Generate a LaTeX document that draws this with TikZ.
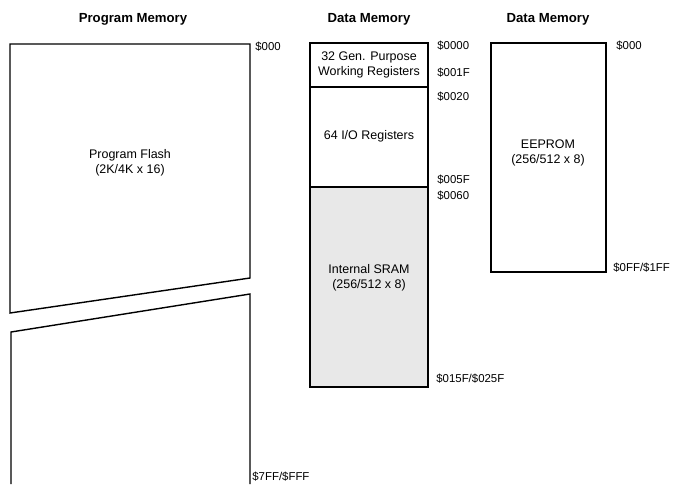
\documentclass[tikz,border=0pt]{standalone}
\usepackage{fontspec}
\setmainfont{Liberation Sans}
\usetikzlibrary{positioning}

\begin{document}
\begin{tikzpicture}[
  x=0.02cm, y=-0.02cm,
  title/.style={font=\fontsize{7.5}{9}\selectfont\bfseries},
  memtext/.style={align=center, font=\fontsize{7.1}{8.4}\selectfont},
  addr/.style={anchor=west, inner sep=0pt, font=\fontsize{6.5}{7.5}\selectfont},
  membox/.style={draw, line width=0.8pt},
  sramfill/.style={fill=black!9}
]
\useasboundingbox (0,0) rectangle (679,484);

% titles
\node[title] (tprog) at (133,19) {Program Memory};
\node[title] (tdata) at (369,19) {Data Memory};
\node[title] (teep) at (548,19) {Data Memory};

% program memory, drawn in two broken pieces
\draw[membox] (10,44) -- (250,44) -- (250,278) -- (10,313) -- cycle;
\draw[membox] (250,484) -- (250,294) -- (11,332) -- (11,484);
\node[memtext] (flash) at (130,163) {Program Flash\\(2K/4K x 16)};
\node[addr] (pstart) at (255,47) {\$000};
\node[addr] (pend) at (252,477) {\$7FF/\$FFF};

% data memory
\draw[membox, sramfill] (310,187) rectangle (428,387);
\draw[membox] (310,43) rectangle (428,187);
\draw[membox] (310,87) -- (428,87);
\node[memtext] (gpr) at (369,65) {32 Gen. Purpose\\Working Registers};
\node[memtext] (io) at (369,136) {64 I/O Registers};
\node[memtext] (sram) at (369,278) {Internal SRAM\\(256/512 x 8)};
\node[addr] (a0000) at (437,46) {\$0000};
\node[addr] (a001f) at (437,73) {\$001F};
\node[addr] (a0020) at (437,97) {\$0020};
\node[addr] (a005f) at (437,180) {\$005F};
\node[addr] (a0060) at (437,196) {\$0060};
\node[addr] (aend) at (436,379) {\$015F/\$025F};

% eeprom
\draw[membox] (491,43) rectangle (606,272);
\node[memtext] (eeprom) at (548,153) {EEPROM\\(256/512 x 8)};
\node[addr] (estart) at (616,46) {\$000};
\node[addr] (eend) at (613,268) {\$0FF/\$1FF};
\end{tikzpicture}
\end{document}
